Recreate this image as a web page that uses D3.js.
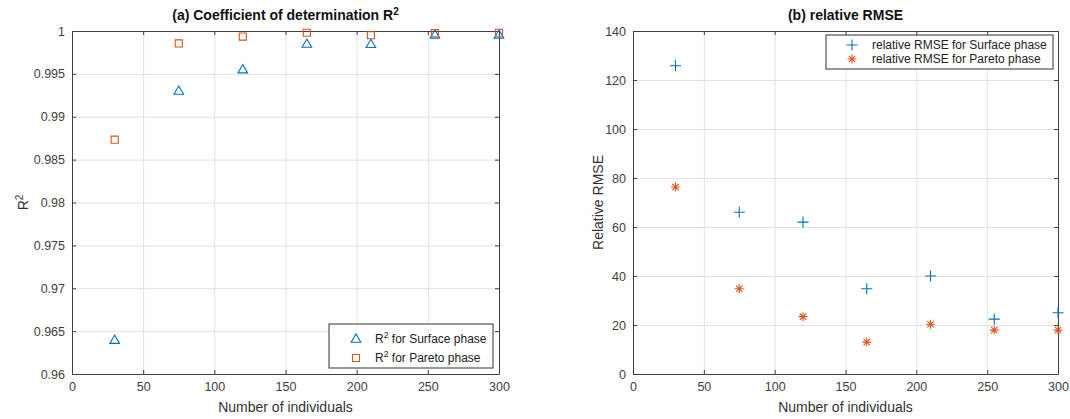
<!DOCTYPE html>
<html>
<head>
<meta charset="utf-8">
<script src="https://cdn.jsdelivr.net/npm/d3@7"></script>
<style>
  body { margin: 0; background: #fff; }
  svg { font-family: "Liberation Sans", Arial, sans-serif; }
  .tick text { fill: #404040; font-size: 12.5px; }
  .axis path, .axis line { stroke: #404040; }
  .grid line { stroke: #e2e2e2; }
  .grid path { display: none; }
</style>
</head>
<body>
<script>
//Chart values
var individuals = [30, 75, 120, 165, 210, 255, 300];

//(a) coefficient of determination
var r2Surface = [0.96395, 0.9930, 0.99550, 0.99848, 0.99845, 0.99955, 0.99955];
var r2Pareto  = [0.98733, 0.99855, 0.99935, 0.99980, 0.99950, 0.99975, 0.99980];

//(b) relative RMSE
var rmseSurface = [125.8, 66.0, 62.0, 34.8, 40.0, 22.4, 25.0];
var rmsePareto  = [76.3, 34.8, 23.4, 13.0, 20.3, 17.9, 17.9];

var xTicks = [0, 50, 100, 150, 200, 250, 300];
var r2Ticks = [0.96, 0.965, 0.97, 0.975, 0.98, 0.985, 0.99, 0.995, 1];
var rmseTicks = [0, 20, 40, 60, 80, 100, 120, 140];

var blue = "#0072bd", orange = "#d95319";

var svg = d3.select("body").append("svg")
    .attr("width", 1070)
    .attr("height", 419);

//both panels share the same vertical extent
var plotTop = 31, plotBottom = 374;

//markers: MATLAB style ^ s + *
function marker(g, type, color) {
  if (type == "tri") {
    g.append("path").attr("d", d3.symbol(d3.symbolTriangle, 40)())
      .attr("transform", "translate(0,0.5)")
      .attr("fill", "none").attr("stroke", color).attr("stroke-width", 1.1);
  } else if (type == "sq") {
    g.append("path").attr("d", d3.symbol(d3.symbolSquare, 50)())
      .attr("fill", "none").attr("stroke", color).attr("stroke-width", 1.1);
  } else if (type == "plus") {
    g.append("path").attr("d", d3.symbol(d3.symbolPlus, 42)())
      .attr("fill", "none").attr("stroke", color).attr("stroke-width", 1.1);
  } else {
    g.append("path").attr("d", d3.symbol(d3.symbolPlus, 28)())
      .attr("fill", "none").attr("stroke", color).attr("stroke-width", 1.1);
    g.append("path").attr("d", d3.symbol(d3.symbolTimes, 28)())
      .attr("fill", "none").attr("stroke", color).attr("stroke-width", 1.1);
  }
}

//draw one panel: frame, grid, ticks, points, labels
function panel(opt) {
  var x = d3.scaleLinear().domain([0, 300]).range([opt.left, opt.right]);
  var y = d3.scaleLinear().domain(opt.yDomain).range([plotBottom, plotTop]);
  var w = opt.right - opt.left, h = plotBottom - plotTop;

  //grid
  svg.append("g").attr("class", "grid")
      .attr("transform", "translate(0," + plotBottom + ")")
      .call(d3.axisBottom(x).tickValues(xTicks).tickSize(-h).tickFormat(""));
  svg.append("g").attr("class", "grid")
      .attr("transform", "translate(" + opt.left + ",0)")
      .call(d3.axisLeft(y).tickValues(opt.yTicks).tickSize(-w).tickFormat(""));

  //axes with inward ticks on all four sides
  svg.append("g").attr("class", "axis")
      .attr("transform", "translate(0," + plotBottom + ")")
      .call(d3.axisBottom(x).tickValues(xTicks).tickSizeInner(-4).tickSizeOuter(0).tickPadding(8));
  svg.append("g").attr("class", "axis")
      .attr("transform", "translate(0," + plotTop + ")")
      .call(d3.axisTop(x).tickValues(xTicks).tickSizeInner(-4).tickSizeOuter(0).tickFormat(""));
  svg.append("g").attr("class", "axis")
      .attr("transform", "translate(" + opt.left + ",0)")
      .call(d3.axisLeft(y).tickValues(opt.yTicks).tickSizeInner(-4).tickSizeOuter(0).tickPadding(7)
            .tickFormat(opt.yFormat));
  svg.append("g").attr("class", "axis")
      .attr("transform", "translate(" + opt.right + ",0)")
      .call(d3.axisRight(y).tickValues(opt.yTicks).tickSizeInner(-4).tickSizeOuter(0).tickFormat(""));

  //points
  opt.series.forEach(function(s) {
    svg.append("g").selectAll("g")
      .data(s.values)
      .enter().append("g")
      .attr("transform", function(d, i) { return "translate(" + x(individuals[i]) + "," + y(d) + ")"; })
      .each(function() { marker(d3.select(this), s.type, s.color); });
  });

  //title
  var t = svg.append("text")
      .attr("x", (opt.left + opt.right) / 2).attr("y", 20)
      .attr("text-anchor", "middle")
      .style("font-size", "14px").style("font-weight", "bold").attr("fill", "#111");
  opt.title(t);

  //x label
  svg.append("text")
      .attr("x", (opt.left + opt.right) / 2).attr("y", 412)
      .attr("text-anchor", "middle")
      .style("font-size", "14px").attr("fill", "#333")
      .text("Number of individuals");

  //y label
  var yl = svg.append("text")
      .attr("transform", "translate(" + opt.yLabelX + "," + ((plotTop + plotBottom) / 2) + ") rotate(-90)")
      .attr("text-anchor", "middle")
      .style("font-size", "14px").attr("fill", "#333");
  opt.yLabel(yl);

  //legend
  var lg = svg.append("g");
  lg.append("rect")
      .attr("x", opt.legend.x).attr("y", opt.legend.y)
      .attr("width", opt.legend.w).attr("height", opt.legend.h)
      .attr("fill", "#fff").attr("stroke", "#333").attr("stroke-width", 1);
  opt.series.forEach(function(s, i) {
    var cy = opt.legend.y + opt.legend.rows[i];
    var m = lg.append("g").attr("transform", "translate(" + (opt.legend.x + opt.legend.mx) + "," + cy + ")");
    marker(m, s.type, s.color);
    var tx = lg.append("text")
        .attr("x", opt.legend.x + opt.legend.tx).attr("y", cy + 4)
        .style("font-size", opt.legend.fs).attr("fill", "#222");
    s.label(tx);
  });
}

function sup(el, before, power, after) {
  el.append("tspan").text(before);
  el.append("tspan").attr("dy", -5).style("font-size", "0.72em").text(power);
  el.append("tspan").attr("dy", 5).text(after);
}

panel({
  left: 72, right: 499,
  yDomain: [0.96, 1], yTicks: r2Ticks,
  yFormat: function(d) { return d3.format("")(+d.toFixed(3)); },
  yLabelX: 28,
  title: function(t) { sup(t, "(a) Coefficient of determination R", "2", ""); },
  yLabel: function(t) { sup(t, "R", "2", ""); },
  series: [
    {values: r2Surface, type: "tri", color: blue, label: function(t) { sup(t, "R", "2", " for Surface phase"); }},
    {values: r2Pareto, type: "sq", color: orange, label: function(t) { sup(t, "R", "2", " for Pareto phase"); }}
  ],
  legend: {x: 329, y: 324, w: 164, h: 44, rows: [15, 34], mx: 27, tx: 46, fs: "12px"}
});

panel({
  left: 633, right: 1058,
  yDomain: [0, 140], yTicks: rmseTicks,
  yFormat: d3.format("d"),
  yLabelX: 603,
  title: function(t) { t.text("(b) relative RMSE"); },
  yLabel: function(t) { t.text("Relative RMSE"); },
  series: [
    {values: rmseSurface, type: "plus", color: blue, label: function(t) { t.text("relative RMSE for Surface phase"); }},
    {values: rmsePareto, type: "star", color: orange, label: function(t) { t.text("relative RMSE for Pareto phase"); }}
  ],
  legend: {x: 826, y: 35, w: 227, h: 34, rows: [10, 24], mx: 26, tx: 46, fs: "12px"}
});
</script>
</body>
</html>
